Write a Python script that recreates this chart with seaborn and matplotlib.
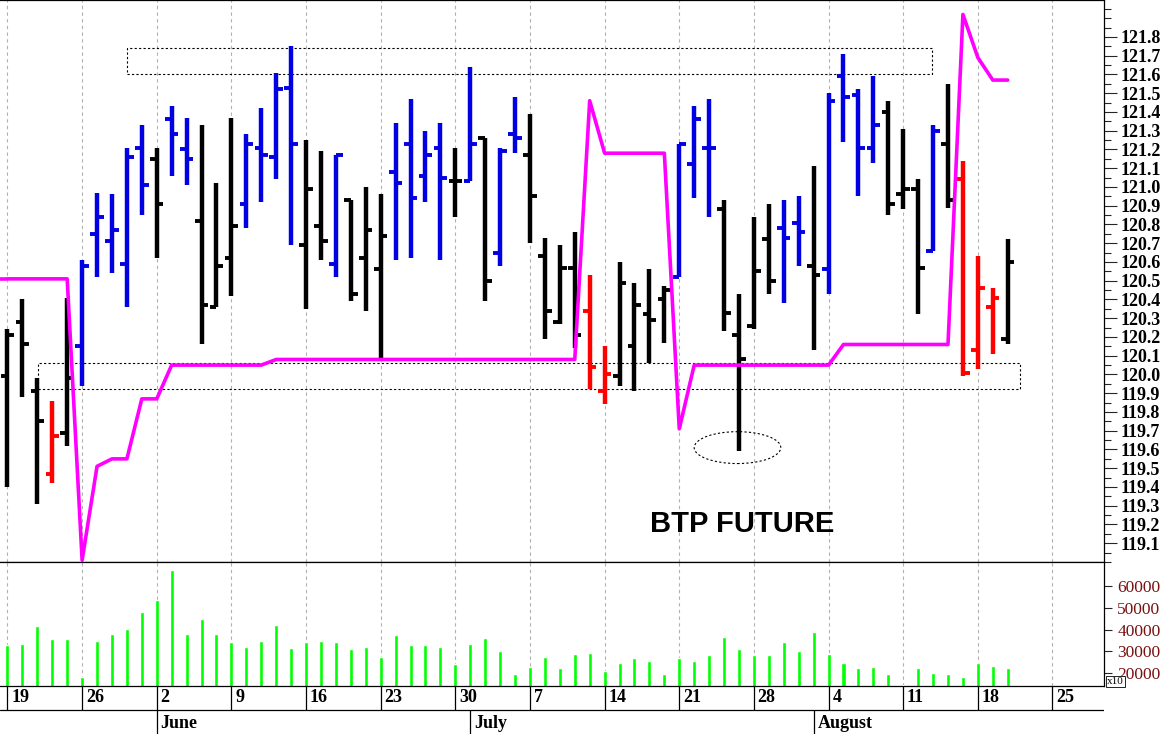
import matplotlib
matplotlib.use("Agg")
import matplotlib.pyplot as plt
import seaborn as sns
import numpy as np
import pandas as pd
from matplotlib.patches import Rectangle, Ellipse

# trading days from Mon 19 May to Wed 20 Aug (index 0..67)
opens = [119.99, 120.28, 119.91, 119.47, 119.69, 120.15, 120.75, 120.71, 120.59, 121.21,
         121.15, 121.36, 121.20, 120.82, 120.36, 120.62, 120.91, 121.21, 121.16, 121.53,
         120.69, 120.79, 120.59, 120.93, 120.62, 120.56, 121.08, 121.23, 121.06, 121.21,
         121.03, 121.03, 121.26, 120.65, 121.28, 121.17, 120.63, 120.28, 120.57, 120.34,
         119.91, 119.99, 120.15, 120.32, 120.40, 120.52, 121.12, 121.21, 120.88, 120.21,
         120.26, 120.72, 120.78, 120.81, 120.58, 120.56, 121.59, 121.49, 121.21, 121.40,
         120.96, 120.99, 120.66, 121.23, 121.04, 120.13, 120.36, 120.19]
highs = [120.24, 120.40, 119.98, 119.86, 120.41, 120.61, 120.97, 120.96, 121.21, 121.33,
         121.21, 121.43, 121.37, 121.33, 121.02, 121.37, 121.28, 121.42, 121.61, 121.75,
         121.25, 121.19, 121.17, 120.93, 121.00, 120.96, 121.34, 121.47, 121.30, 121.34,
         121.21, 121.64, 121.26, 121.21, 121.48, 121.39, 120.73, 120.69, 120.76, 120.53,
         120.15, 120.60, 120.49, 120.56, 120.47, 121.23, 121.43, 121.47, 120.93, 120.43,
         120.84, 120.91, 120.93, 120.95, 121.11, 121.50, 121.71, 121.52, 121.59, 121.46,
         121.31, 121.04, 121.33, 121.55, 121.14, 120.63, 120.46, 120.72]
lows = [119.40, 119.88, 119.31, 119.42, 119.62, 119.94, 120.52, 120.54, 120.36, 120.85,
        120.62, 121.06, 121.01, 120.16, 120.36, 120.42, 120.78, 120.92, 121.04, 120.69,
        120.35, 120.61, 120.52, 120.39, 120.34, 120.09, 120.61, 120.62, 120.92, 120.61,
        120.84, 121.03, 120.39, 120.58, 121.18, 120.70, 120.19, 120.27, 120.14, 119.92,
        119.84, 119.94, 119.91, 120.06, 120.17, 120.52, 120.94, 120.84, 120.23, 119.59,
        120.24, 120.43, 120.38, 120.58, 120.13, 120.43, 121.24, 120.95, 121.13, 120.85,
        120.88, 120.32, 120.66, 120.89, 119.99, 120.03, 120.11, 120.16]
closes = [120.21, 120.16, 119.75, 119.67, 119.98, 120.58, 120.84, 120.77, 121.16, 121.01,
          120.91, 121.28, 121.15, 120.37, 120.58, 120.79, 121.23, 121.17, 121.52, 121.23,
          120.99, 120.71, 121.17, 120.43, 120.77, 120.74, 121.02, 120.94, 121.17, 121.05,
          121.03, 121.23, 120.50, 121.19, 121.26, 120.95, 120.34, 120.57, 120.21, 120.04,
          120.00, 120.49, 120.37, 120.29, 120.45, 121.23, 121.36, 121.21, 120.33, 120.08,
          120.55, 120.50, 120.73, 120.76, 120.53, 121.46, 121.48, 121.21, 121.33, 120.91,
          120.99, 120.57, 121.30, 120.93, 120.01, 120.46, 120.41, 120.60]
bar_colors = (["k", "k", "k", "r", "k"] + ["b"] * 5 + ["k", "b", "b", "k", "k", "k"]
              + ["b"] * 4 + ["k", "k", "b", "k", "k", "k"] + ["b"] * 4 + ["k", "b", "k", "b", "b", "k"]
              + ["k", "k", "k", "r", "r"] + ["k"] * 4 + ["b"] * 3 + ["k"] * 4
              + ["b", "b", "k"] + ["b"] * 4 + ["k", "k", "k", "b", "k", "r", "r", "r", "k"])
signal = ([120.51] * 5 + [119.01, 119.51, 119.55, 119.55, 119.87, 119.87] + [120.05] * 7
          + [120.08] * 21 + [121.46] + [121.18] * 5 + [119.71] + [120.05] * 10
          + [120.16] * 8 + [121.92, 121.69, 121.57, 121.57])
volume = [32.8, 33.4, 41.5, 35.8, 35.8, 18.2, 34.9, 38.2, 40.3, 48.2,
          53.4, 67.2, 38.2, 44.9, 38.2, 34.2, 32.0, 34.9, 42.3, 31.7,
          34.2, 34.9, 34.2, 31.1, 32.0, 27.4, 37.7, 32.8, 32.8, 32.0,
          24.2, 33.4, 36.2, 30.3, 19.5, 22.8, 27.4, 22.3, 28.8, 29.2,
          21.1, 24.6, 26.9, 25.7, 19.5, 26.9, 25.4, 28.2, 36.6, 31.1,
          28.2, 28.2, 34.2, 30.3, 38.9, 28.9, 24.6, 22.6, 22.8, 19.5,
          14.5, 22.3, 20.0, 19.5, 18.2, 24.6, 23.5, 22.3]
week_days = ["19", "26", "2", "9", "16", "23", "30", "7", "14", "21", "28", "4", "11", "18", "25"]
months = ["June", "July", "August"]
month_idx = [10, 31, 54]

idx = np.arange(len(opens))
colmap = {"k": "black", "b": "#0000e0", "r": "#ff0000"}
serif = ["Liberation Serif", "DejaVu Serif"]

sns.set_style("white")
plt.rcParams["text.color"] = "black"
fig = plt.figure(figsize=(11.75, 7.34), dpi=100)
W, H = 1175, 734
xl = (-0.5, 73.45)
axp = fig.add_axes([0, (H - 562) / H, 1104 / W, 562 / H])
axv = fig.add_axes([0, (H - 686) / H, 1104 / W, 124 / H])
axd = fig.add_axes([0, 0, 1104 / W, (H - 686) / H])

# price panel
for i in idx:
    c = colmap[bar_colors[i]]
    axp.vlines(i, lows[i], highs[i], color=c, lw=3.2)
    axp.hlines(opens[i], i - 0.45, i, color=c, lw=2.8)
    axp.hlines(closes[i], i, i + 0.45, color=c, lw=2.8)
sns.lineplot(x=idx, y=signal, ax=axp, color="#ff00ff", lw=2.6)
axp.hlines(signal[0], -0.5, 0, color="#ff00ff", lw=2.6)
axp.add_patch(Rectangle((8.0, 121.60), 53.9, 0.14, fill=False, ls=(0, (2, 2)), lw=0.8, ec="k"))
axp.add_patch(Rectangle((2.05, 119.92), 65.75, 0.14, fill=False, ls=(0, (2, 2)), lw=0.8, ec="k"))
axp.add_patch(Ellipse((48.9, 119.61), 5.8, 0.17, fill=False, ls=(0, (2, 2)), lw=0.8, ec="k"))
axp.text(49.2, 119.20, "BTP FUTURE", fontsize=21, fontweight="bold", color="black",
         family="Liberation Sans", ha="center", va="center")
axp.set_xlim(*xl)
axp.set_ylim(119.007, 121.997)
axp.yaxis.tick_right()
axp.set_yticks(np.round(np.arange(119.1, 121.85, 0.1), 1))
axp.set_yticks(np.arange(119.0, 122.0, 0.05), minor=True)
axp.set_yticklabels([f"{v:.1f}" for v in np.arange(119.1, 121.85, 0.1)],
                    family=serif, fontweight="bold", fontsize=13, color="black")
axp.tick_params(axis="y", which="major", length=9, width=0.8, pad=3, right=True)
axp.tick_params(axis="y", which="minor", length=5, width=0.8, right=True)
axp.set_xticks([])

# volume panel
vdf = pd.DataFrame({"i": idx, "v": np.array(volume) * 1000})
sns.barplot(data=vdf, x="i", y="v", native_scale=True, color="#00ff00",
            saturation=1, width=0.27, ax=axv)
axv.set_xlim(*xl)
axv.set_ylim(14150, 71000)
axv.yaxis.tick_right()
axv.set_yticks([20000, 30000, 40000, 50000, 60000])
axv.set_yticklabels(["20000", "30000", "40000", "50000", "60000"], family=serif,
                    fontsize=12.5, color="#7a1010")
axv.tick_params(axis="y", length=6, width=0.8, right=True)
axv.set_xticks([])
axv.set_xlabel("")
axv.set_ylabel("")
axv.text(1.003, 0.0, "x10", transform=axv.transAxes, fontsize=8, family=serif,
         va="bottom", bbox=dict(boxstyle="square,pad=0.1", fc="white", ec="k", lw=0.6))

for ax in (axp, axv):
    for w in range(0, 75, 5):
        ax.axvline(w, color="#b0b0b0", ls=(0, (3, 3)), lw=0.8, zorder=0)
    for s in ax.spines.values():
        s.set_linewidth(0.9)
        s.set_color("black")
    ax.spines["left"].set_visible(False)

# date rows
axd.set_xlim(*xl)
axd.set_ylim(0, 2)
axd.axis("off")
axd.axhline(1.0, color="k", lw=0.9)
for k, lab in enumerate(week_days):
    x = 5 * k
    axd.vlines(x, 1, 2, color="k", lw=0.9)
    axd.text(x + 0.25, 1.5, lab, family=serif, fontweight="bold", fontsize=13,
             ha="left", va="center")
for lab, x in zip(months, month_idx):
    axd.vlines(x, 0, 1, color="k", lw=0.9)
    axd.text(x + 0.25, 0.45, lab, family=serif, fontweight="bold", fontsize=13,
             ha="left", va="center")

fig.savefig("out.png", dpi=100)
